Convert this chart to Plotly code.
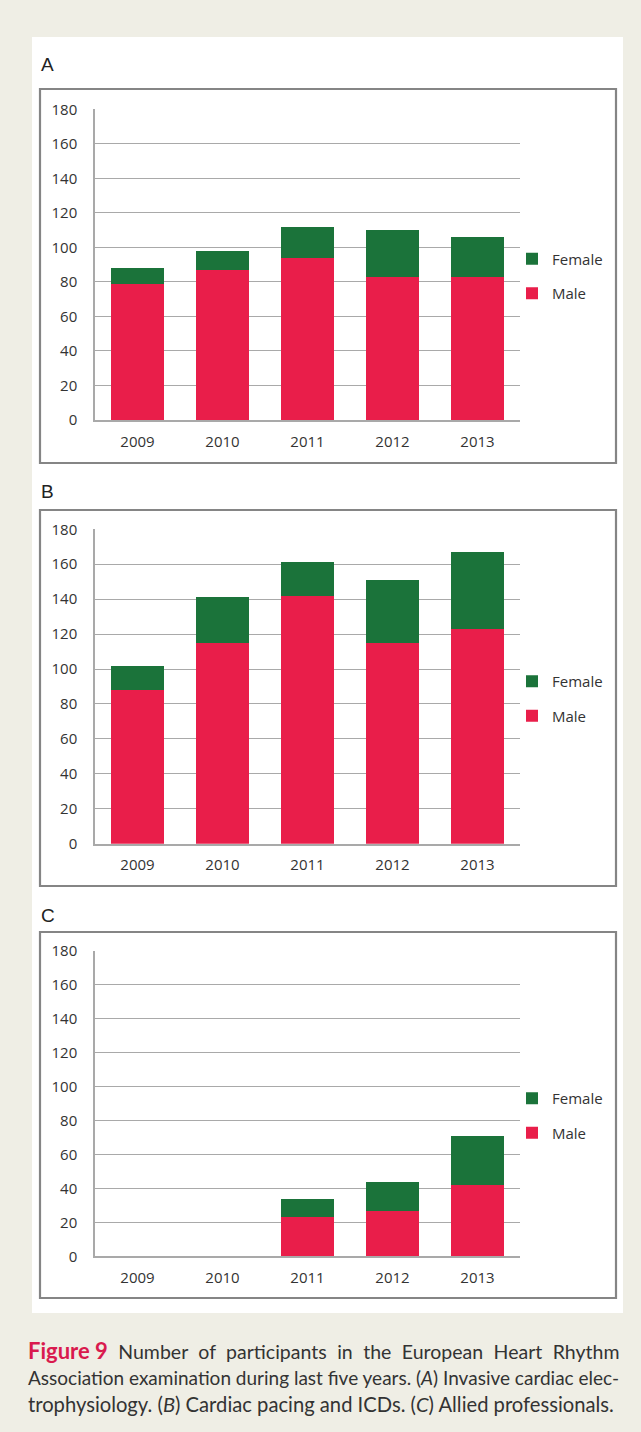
import plotly.graph_objects as go

years = ["2009", "2010", "2011", "2012", "2013"]
a_male = [79, 87, 94, 83, 83]
a_female = [9, 11, 18, 27, 23]
b_male = [88, 115, 142, 115, 123]
b_female = [14, 26, 19, 36, 44]
c_male = [0, 0, 23, 27, 42]
c_female = [0, 0, 11, 17, 29]
y_ticks = [0, 20, 40, 60, 80, 100, 120, 140, 160, 180]
panel_labels = ["A", "B", "C"]
caption_lines = [
    "<span style='color:#D91A4E;font-size:22px'><b>Figure 9</b></span>"
    "<span style='word-spacing:5.5px'> Number of participants in the European Heart Rhythm</span>",
    "Association examination during last five years. (<i>A</i>) Invasive cardiac elec-",
    "trophysiology. (<i>B</i>) Cardiac pacing and ICDs. (<i>C</i>) Allied professionals.",
]
caption_sizes = [19.5, 19, 20.2]

W, H = 641, 1432
MALE = "#E91E4A"
FEMALE = "#1B733A"
GRID = "#A9A9A9"
TXT = "#333333"
FONT = "Open Sans"
BG = "#EFEEE5"

def px(x):
    return x / W

def py(y):
    return 1 - y / H

fig = go.Figure()

areas = [(420, 109.3), (843.7, 529.3), (1256.3, 951)]
boxes = [(89, 463), (510, 886), (932, 1298)]
label_y = [65, 492, 915]
legend_y = [276, 698.5, 1115.5]
data = [(a_male, a_female), (b_male, b_female), (c_male, c_female)]

for i, ((y0, y1), (male, female)) in enumerate(zip(areas, data)):
    sfx = "" if i == 0 else str(i + 1)
    leg = "legend" + sfx
    xa = "x" + sfx
    ya = "y" + sfx
    fig.add_trace(go.Bar(x=years, y=male, name="Male", marker=dict(color=MALE, line=dict(width=0)),
                         xaxis=xa, yaxis=ya, legend=leg, legendgroup="m" + sfx, legendrank=2))
    fig.add_trace(go.Bar(x=years, y=female, name="Female", marker=dict(color=FEMALE, line=dict(width=0)),
                         xaxis=xa, yaxis=ya, legend=leg, legendgroup="f" + sfx, legendrank=1))
    fig.layout["xaxis" + sfx] = dict(
        domain=[px(95), px(520)], anchor=ya, showgrid=False, showline=True, linecolor=GRID, linewidth=1.5,
        ticks="outside", ticklen=7, tickcolor="rgba(0,0,0,0)", tickfont=dict(family=FONT, size=15, color=TXT),
        fixedrange=True, automargin=False,
    )
    fig.layout["yaxis" + sfx] = dict(
        domain=[py(y0), py(y1)], anchor=xa, range=[0, 180], tickvals=y_ticks, showgrid=True, gridcolor=GRID,
        gridwidth=1.3, showline=True, linecolor=GRID, linewidth=1.5, zeroline=False,
        ticks="outside", ticklen=13, tickcolor="rgba(0,0,0,0)", tickfont=dict(family=FONT, size=15, color=TXT),
        fixedrange=True, automargin=False,
    )
    fig.layout[leg] = dict(
        x=px(512), y=py(legend_y[i]), xanchor="left", yanchor="middle", traceorder="grouped",
        tracegroupgap=12, font=dict(family=FONT, size=15, color=TXT), bgcolor="rgba(0,0,0,0)",
        itemwidth=30,
    )
    fig.add_shape(type="rect", xref="paper", yref="paper", x0=px(40), x1=px(616),
                  y0=py(boxes[i][1]), y1=py(boxes[i][0]), line=dict(color="#858585", width=2.2),
                  fillcolor="rgba(0,0,0,0)", layer="above")
    fig.add_annotation(text=panel_labels[i], xref="paper", yref="paper", x=px(39), y=py(label_y[i]),
                       xanchor="left", yanchor="middle", showarrow=False,
                       font=dict(family="Liberation Sans", size=19, color="#222222"))

fig.add_shape(type="rect", xref="paper", yref="paper", x0=px(32), x1=px(623), y0=py(1313), y1=py(37),
              line=dict(width=0), fillcolor="white", layer="below")

for j, line in enumerate(caption_lines):
    fig.add_annotation(text=line, xref="paper", yref="paper", x=px(26), y=py(1350 + 27 * j),
                       xanchor="left", yanchor="middle", showarrow=False,
                       font=dict(family="Lato", size=caption_sizes[j], color="#333333"))

fig.update_layout(
    width=W, height=H, margin=dict(l=0, r=0, t=0, b=0, pad=0, autoexpand=False), barmode="stack", bargap=0.37,
    paper_bgcolor=BG, plot_bgcolor="rgba(0,0,0,0)", showlegend=True,
)

post = (
    "document.documentElement.style.margin='0';"
    "document.documentElement.style.background='%s';"
    "document.body.style.margin='0';"
    "document.body.style.background='%s';"
    "var d=document.getElementById('{plot_id}');"
    "d.style.position='fixed';d.style.top='0px';d.style.left='0px';"
) % (BG, BG)

fig.write_html("out.html", config=dict(displayModeBar=False), post_script=post)
